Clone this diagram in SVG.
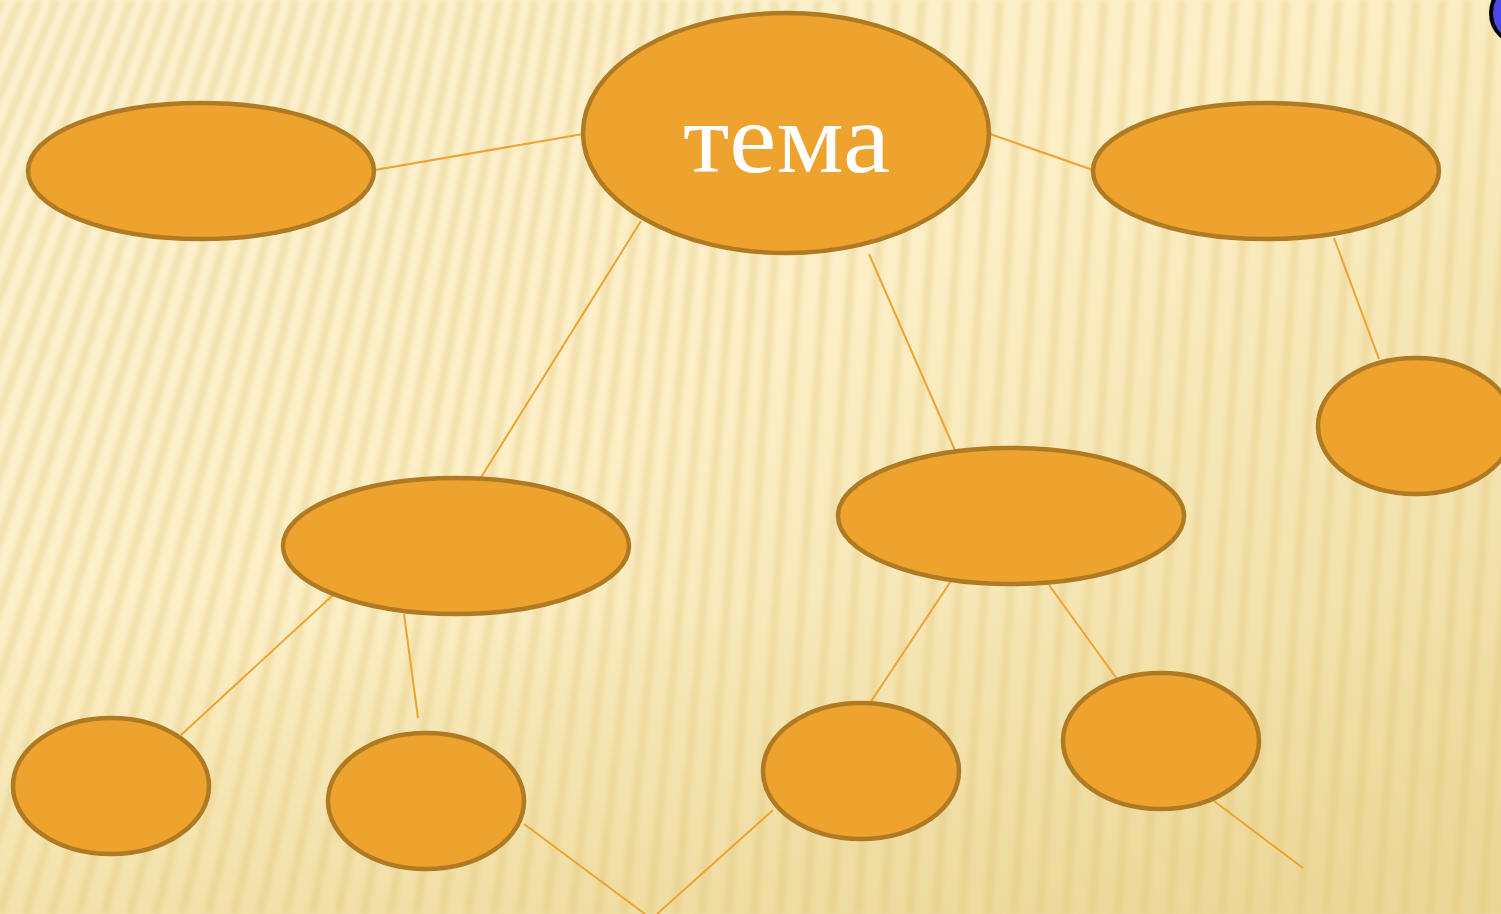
<svg xmlns="http://www.w3.org/2000/svg" width="1501" height="914" viewBox="0 0 1501 914">
<style>
.node{fill:#EFA32F;stroke:#B07A22;stroke-width:4.5}
.edge{stroke:#EFA32F;stroke-width:2;fill:none}
.stripe{stroke:#DDBE6A;stroke-width:8;fill:none;opacity:0.3}
.title{font-family:"Liberation Serif","Times New Roman",serif;font-size:100px;fill:#FFFFFF;text-anchor:middle}
</style>
<defs>
<linearGradient id="bg" x1="0" y1="0" x2="1" y2="1">
<stop offset="0" stop-color="#FCF2D2"/>
<stop offset="0.45" stop-color="#FCEFC6"/>
<stop offset="1" stop-color="#ECD99B"/>
</linearGradient>
<linearGradient id="bot" x1="0" y1="0" x2="0" y2="1">
<stop offset="0" stop-color="#E9D490" stop-opacity="0"/>
<stop offset="1" stop-color="#E9D490" stop-opacity="0.45"/>
</linearGradient>
<filter id="blur" x="-0.1" y="-0.1" width="1.2" height="1.2"><feGaussianBlur stdDeviation="2.5"/></filter>
</defs>
<rect x="0" y="0" width="1501" height="914" fill="url(#bg)"/>
<rect x="0" y="600" width="1501" height="314" fill="url(#bot)"/>
<path class="stripe" filter="url(#blur)" d="M-390 914L2 0M-364 914L20 0M-338 914L39 0M-312 914L57 0M-286 914L75 0M-260 914L94 0M-234 914L112 0M-208 914L131 0M-182 914L149 0M-156 914L167 0M-130 914L186 0M-104 914L204 0M-78 914L223 0M-52 914L241 0M-26 914L259 0M0 914L278 0M26 914L296 0M52 914L315 0M78 914L333 0M104 914L351 0M130 914L370 0M156 914L388 0M182 914L407 0M208 914L425 0M234 914L443 0M260 914L462 0M286 914L480 0M312 914L499 0M338 914L517 0M364 914L535 0M390 914L554 0M416 914L572 0M442 914L591 0M468 914L609 0M494 914L627 0M520 914L646 0M546 914L664 0M572 914L683 0M598 914L701 0M624 914L719 0M650 914L738 0M676 914L756 0M702 914L775 0M728 914L793 0M754 914L818 0M780 914L844 0M806 914L870 0M832 914L896 0M858 914L922 0M884 914L948 0M910 914L974 0M936 914L1000 0M962 914L1026 0M988 914L1052 0M1014 914L1078 0M1040 914L1104 0M1066 914L1130 0M1092 914L1156 0M1118 914L1182 0M1144 914L1208 0M1170 914L1234 0M1196 914L1260 0M1222 914L1286 0M1248 914L1312 0M1274 914L1338 0M1300 914L1364 0M1326 914L1390 0M1352 914L1416 0M1378 914L1442 0M1404 914L1468 0M1430 914L1494 0M1456 914L1520 0M1482 914L1546 0M1508 914L1572 0"/>
<g id="connectors">
<line class="edge" x1="375" y1="170" x2="583" y2="134"/>
<line class="edge" x1="990" y1="134" x2="1093" y2="170"/>
<line class="edge" x1="641" y1="221" x2="480" y2="479"/>
<line class="edge" x1="869" y1="254" x2="957" y2="455"/>
<line class="edge" x1="1334" y1="238" x2="1379" y2="359"/>
<line class="edge" x1="333" y1="595" x2="181" y2="735"/>
<line class="edge" x1="404" y1="614" x2="418" y2="718"/>
<line class="edge" x1="953" y1="578" x2="870" y2="703"/>
<line class="edge" x1="1049" y1="585" x2="1117" y2="679"/>
<line class="edge" x1="524" y1="824" x2="645" y2="914"/>
<line class="edge" x1="773" y1="810" x2="657" y2="914"/>
<line class="edge" x1="1214" y1="801" x2="1303" y2="868"/>
</g>
<g id="node-topic"><ellipse class="node" cx="786" cy="133" rx="203" ry="120"/><text class="title" x="786.5" y="172" textLength="207" lengthAdjust="spacingAndGlyphs">тема</text></g>
<g id="node-top-left"><ellipse class="node" cx="201" cy="171" rx="173" ry="68"/></g>
<g id="node-top-right"><ellipse class="node" cx="1266" cy="171" rx="173" ry="68"/></g>
<g id="node-right-small"><ellipse class="node" cx="1416" cy="426" rx="98" ry="68"/></g>
<g id="node-mid-left"><ellipse class="node" cx="456" cy="546" rx="173" ry="68"/></g>
<g id="node-mid-right"><ellipse class="node" cx="1011" cy="516" rx="173" ry="68"/></g>
<g id="node-bottom-1"><ellipse class="node" cx="111" cy="786" rx="98" ry="68"/></g>
<g id="node-bottom-2"><ellipse class="node" cx="426" cy="801" rx="98" ry="68"/></g>
<g id="node-bottom-3"><ellipse class="node" cx="861" cy="771" rx="98" ry="68"/></g>
<g id="node-bottom-4"><ellipse class="node" cx="1161" cy="741" rx="98" ry="68"/></g>
<g id="corner-dot"><circle cx="1522" cy="13" r="31" fill="#4A4AE8" stroke="#000000" stroke-width="4"/></g>
</svg>
